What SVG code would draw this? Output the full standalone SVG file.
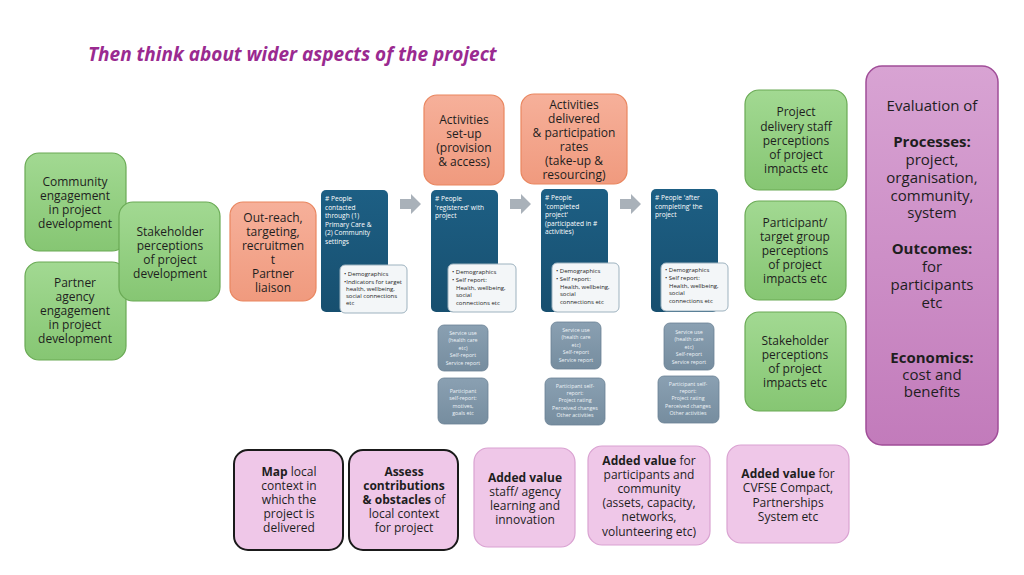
<svg xmlns="http://www.w3.org/2000/svg" width="1024" height="575" viewBox="0 0 1024 575">
<defs>
<linearGradient id="gGreen" x1="0" y1="0" x2="0" y2="1"><stop offset="0" stop-color="#a2d992"/><stop offset="1" stop-color="#86c673"/></linearGradient>
<linearGradient id="gOrange" x1="0" y1="0" x2="0" y2="1"><stop offset="0" stop-color="#f6b09a"/><stop offset="1" stop-color="#f09a7e"/></linearGradient>
<linearGradient id="gPurple" x1="0" y1="0" x2="0" y2="1"><stop offset="0" stop-color="#d8a3d3"/><stop offset="1" stop-color="#c27bbb"/></linearGradient>
<linearGradient id="gBlue" x1="0" y1="0" x2="0" y2="1"><stop offset="0" stop-color="#1d5f84"/><stop offset="1" stop-color="#174f6f"/></linearGradient>
<linearGradient id="gGray" x1="0" y1="0" x2="0" y2="1"><stop offset="0" stop-color="#8aa0b2"/><stop offset="1" stop-color="#768d9f"/></linearGradient>
</defs>
<style>
text{font-family:"Open Sans","DejaVu Sans",sans-serif;}
.green{fill:url(#gGreen);stroke:#6aaa55;stroke-width:1.2;}
.orange{fill:url(#gOrange);stroke:#e9865f;stroke-width:1.2;}
.purple{fill:url(#gPurple);stroke:#a04d98;stroke-width:1.5;}
.pink{fill:#efc7e8;stroke:#d9a2d1;stroke-width:1.2;}
.pinkb{fill:#efc7e8;stroke:#1a1a1a;stroke-width:2;}
.blue{fill:url(#gBlue);stroke:none;}
.inner{fill:#f3f6f8;stroke:#9db2bf;stroke-width:1;}
.gray{fill:url(#gGray);stroke:#6b8294;stroke-width:0.8;}
.t{font-size:12px;fill:#1e1e1e;text-anchor:middle;}
.ev{font-size:15px;fill:#1e1e1e;text-anchor:middle;}
.bh{font-size:6.6px;fill:#ffffff;}
.bi{font-size:6px;fill:#1e1e1e;}
.gt{font-size:5.3px;fill:#eef3f7;text-anchor:middle;}
.arrow{fill:#a9b1b9;}
.b{font-weight:bold;}
</style>

<text x="88" y="61" font-size="19" font-weight="bold" font-style="italic" fill="#9a2a90">Then think about wider aspects of the project</text>

<g id="connectors">
<path class="arrow" d="M400,199 h11 v-5 l10,10 l-10,10 v-5 h-11 z"/>
<path class="arrow" d="M510,199 h11 v-5 l10,10 l-10,10 v-5 h-11 z"/>
<path class="arrow" d="M620,199 h11 v-5 l10,10 l-10,10 v-5 h-11 z"/>
</g>

<g id="community-engagement">
<rect class="green" x="25" y="153" width="101" height="98" rx="14"/>
<text class="t" x="75" y="186">Community</text>
<text class="t" x="75" y="200">engagement</text>
<text class="t" x="75" y="214">in project</text>
<text class="t" x="75" y="228">development</text>
</g>
<g id="partner-agency">
<rect class="green" x="25" y="262" width="101" height="98" rx="14"/>
<text class="t" x="75" y="287">Partner</text>
<text class="t" x="75" y="301">agency</text>
<text class="t" x="75" y="315">engagement</text>
<text class="t" x="75" y="329">in project</text>
<text class="t" x="75" y="343">development</text>
</g>
<g id="stakeholder-development">
<rect class="green" x="119" y="202" width="101" height="99" rx="14"/>
<text class="t" x="170" y="236">Stakeholder</text>
<text class="t" x="170" y="250">perceptions</text>
<text class="t" x="170" y="264">of project</text>
<text class="t" x="170" y="278">development</text>
</g>
<g id="outreach">
<rect class="orange" x="230" y="202" width="86" height="99" rx="13"/>
<text class="t" x="273" y="222">Out-reach,</text>
<text class="t" x="273" y="236">targeting,</text>
<text class="t" x="273" y="250">recruitmen</text>
<text class="t" x="273" y="264">t</text>
<text class="t" x="273" y="278">Partner</text>
<text class="t" x="273" y="292">liaison</text>
</g>

<g id="activities-setup">
<rect class="orange" x="424" y="95" width="80" height="90" rx="13"/>
<text class="t" x="464" y="124">Activities</text>
<text class="t" x="464" y="138">set-up</text>
<text class="t" x="464" y="152">(provision</text>
<text class="t" x="464" y="166">&amp; access)</text>
</g>
<g id="activities-delivered">
<rect class="orange" x="521" y="94" width="106" height="90" rx="13"/>
<text class="t" x="574" y="109">Activities</text>
<text class="t" x="574" y="123">delivered</text>
<text class="t" x="574" y="137">&amp; participation</text>
<text class="t" x="574" y="151">rates</text>
<text class="t" x="574" y="165">(take-up &amp;</text>
<text class="t" x="574" y="179">resourcing)</text>
</g>

<g id="people-contacted">
<rect class="blue" x="321" y="190" width="67" height="122" rx="5"/>
<text class="bh" x="325" y="201"><tspan x="325" dy="0"># People</tspan><tspan x="325" dy="8.5">contacted</tspan><tspan x="325" dy="8.5">through (1)</tspan><tspan x="325" dy="8.5">Primary Care &amp;</tspan><tspan x="325" dy="8.5">(2) Community</tspan><tspan x="325" dy="8.5">settings</tspan></text>
<rect class="inner" x="340" y="265" width="67" height="48" rx="5"/>
<text class="bi" x="344" y="276">• Demographics</text>
<text class="bi" x="344" y="284" font-size="5.4"><tspan x="344" dy="0">•Indicators for target</tspan><tspan x="346" dy="7">health, wellbeing,</tspan><tspan x="346" dy="7">social connections</tspan><tspan x="346" dy="7">etc</tspan></text>
</g>
<g id="people-registered">
<rect class="blue" x="431" y="190" width="67" height="122" rx="5"/>
<text class="bh" x="435" y="201"><tspan x="435" dy="0"># People</tspan><tspan x="435" dy="8.5">'registered' with</tspan><tspan x="435" dy="8.5">project</tspan></text>
<rect class="inner" x="448" y="264" width="68" height="48" rx="5"/>
<text class="bi" x="452" y="274"><tspan x="452" dy="0">• Demographics</tspan><tspan x="452" dy="7.8">• Self report:</tspan><tspan x="456" dy="7.8">Health, wellbeing,</tspan><tspan x="456" dy="7.8">social</tspan><tspan x="456" dy="7.8">connections etc</tspan></text>
</g>
<g id="people-completed">
<rect class="blue" x="541" y="189" width="67" height="123" rx="5"/>
<text class="bh" x="545" y="200"><tspan x="545" dy="0"># People</tspan><tspan x="545" dy="8.5">'completed</tspan><tspan x="545" dy="8.5">project'</tspan><tspan x="545" dy="8.5">(participated in #</tspan><tspan x="545" dy="8.5">activities)</tspan></text>
<rect class="inner" x="552" y="263" width="67" height="49" rx="5"/>
<text class="bi" x="556" y="273"><tspan x="556" dy="0">• Demographics</tspan><tspan x="556" dy="7.8">• Self report:</tspan><tspan x="560" dy="7.8">Health, wellbeing,</tspan><tspan x="560" dy="7.8">social</tspan><tspan x="560" dy="7.8">connections etc</tspan></text>
</g>
<g id="people-after">
<rect class="blue" x="651" y="189" width="67" height="123" rx="5"/>
<text class="bh" x="655" y="200"><tspan x="655" dy="0"># People 'after</tspan><tspan x="655" dy="8.5">completing' the</tspan><tspan x="655" dy="8.5">project</tspan></text>
<rect class="inner" x="661" y="263" width="67" height="48" rx="5"/>
<text class="bi" x="665" y="272"><tspan x="665" dy="0">• Demographics</tspan><tspan x="665" dy="7.8">• Self report:</tspan><tspan x="669" dy="7.8">Health, wellbeing,</tspan><tspan x="669" dy="7.8">social</tspan><tspan x="669" dy="7.8">connections etc</tspan></text>
</g>

<g id="service-use-1">
<rect class="gray" x="438" y="325" width="50" height="46" rx="6"/>
<text class="gt" x="463" y="335"><tspan x="463" dy="0">Service use</tspan><tspan x="463" dy="7.4">(health care</tspan><tspan x="463" dy="7.4">etc)</tspan><tspan x="463" dy="7.4">Self-report</tspan><tspan x="463" dy="7.4">Service report</tspan></text>
</g>
<g id="self-report-1">
<rect class="gray" x="438" y="378" width="50" height="46" rx="6"/>
<text class="gt" x="463" y="393"><tspan x="463" dy="0">Participant</tspan><tspan x="463" dy="7.4">self-report:</tspan><tspan x="463" dy="7.4">motives,</tspan><tspan x="463" dy="7.4">goals etc</tspan></text>
</g>
<g id="service-use-2">
<rect class="gray" x="551" y="322" width="50" height="47" rx="6"/>
<text class="gt" x="576" y="332"><tspan x="576" dy="0">Service use</tspan><tspan x="576" dy="7.4">(health care</tspan><tspan x="576" dy="7.4">etc)</tspan><tspan x="576" dy="7.4">Self-report</tspan><tspan x="576" dy="7.4">Service report</tspan></text>
</g>
<g id="self-report-2">
<rect class="gray" x="545" y="378" width="60" height="47" rx="6"/>
<text class="gt" x="575" y="388"><tspan x="575" dy="0">Participant self-</tspan><tspan x="575" dy="7.2">report:</tspan><tspan x="575" dy="7.2">Project rating</tspan><tspan x="575" dy="7.2">Perceived changes</tspan><tspan x="575" dy="7.2">Other activities</tspan></text>
</g>
<g id="service-use-3">
<rect class="gray" x="664" y="323" width="50" height="47" rx="6"/>
<text class="gt" x="689" y="334"><tspan x="689" dy="0">Service use</tspan><tspan x="689" dy="7.4">(health care</tspan><tspan x="689" dy="7.4">etc)</tspan><tspan x="689" dy="7.4">Self-report</tspan><tspan x="689" dy="7.4">Service report</tspan></text>
</g>
<g id="self-report-3">
<rect class="gray" x="658" y="376" width="61" height="47" rx="6"/>
<text class="gt" x="688" y="386"><tspan x="688" dy="0">Participant self-</tspan><tspan x="688" dy="7.2">report:</tspan><tspan x="688" dy="7.2">Project rating</tspan><tspan x="688" dy="7.2">Perceived changes</tspan><tspan x="688" dy="7.2">Other activities</tspan></text>
</g>

<g id="staff-perceptions">
<rect class="green" x="745" y="90" width="102" height="100" rx="14"/>
<text class="t" x="796" y="116">Project</text>
<text class="t" x="796" y="131">delivery staff</text>
<text class="t" x="796" y="145">perceptions</text>
<text class="t" x="796" y="159">of project</text>
<text class="t" x="796" y="173">impacts etc</text>
</g>
<g id="participant-perceptions">
<rect class="green" x="745" y="201" width="101" height="99" rx="14"/>
<text class="t" x="795" y="227">Participant/</text>
<text class="t" x="795" y="241">target group</text>
<text class="t" x="795" y="255">perceptions</text>
<text class="t" x="795" y="269">of project</text>
<text class="t" x="795" y="283">impacts etc</text>
</g>
<g id="stakeholder-impacts">
<rect class="green" x="745" y="312" width="101" height="99" rx="14"/>
<text class="t" x="795" y="345">Stakeholder</text>
<text class="t" x="795" y="359">perceptions</text>
<text class="t" x="795" y="373">of project</text>
<text class="t" x="795" y="387">impacts etc</text>
</g>

<g id="evaluation">
<rect class="purple" x="866" y="66" width="132" height="379" rx="16"/>
<text class="ev" x="932" y="111">Evaluation of</text>
<text class="ev b" x="932" y="147">Processes:</text>
<text class="ev" x="932" y="165">project,</text>
<text class="ev" x="932" y="183">organisation,</text>
<text class="ev" x="932" y="201">community,</text>
<text class="ev" x="932" y="218">system</text>
<text class="ev b" x="932" y="254">Outcomes:</text>
<text class="ev" x="932" y="272">for</text>
<text class="ev" x="932" y="290">participants</text>
<text class="ev" x="932" y="308">etc</text>
<text class="ev b" x="932" y="363">Economics:</text>
<text class="ev" x="932" y="380">cost and</text>
<text class="ev" x="932" y="397">benefits</text>
</g>

<g id="map-local">
<rect class="pinkb" x="234" y="450" width="109" height="100" rx="14"/>
<text class="t" x="289" y="476" font-size="12.5"><tspan class="b">Map</tspan> local</text>
<text class="t" x="289" y="490" font-size="12.5">context in</text>
<text class="t" x="289" y="504" font-size="12.5">which the</text>
<text class="t" x="289" y="518" font-size="12.5">project is</text>
<text class="t" x="289" y="532" font-size="12.5">delivered</text>
</g>
<g id="assess">
<rect class="pinkb" x="349" y="450" width="109" height="100" rx="14"/>
<text class="t b" x="404" y="476" font-size="12.5">Assess</text>
<text class="t b" x="404" y="490" font-size="12.5">contributions</text>
<text class="t" x="404" y="504" font-size="12.5"><tspan class="b">&amp; obstacles</tspan> of</text>
<text class="t" x="404" y="518" font-size="12.5">local context</text>
<text class="t" x="404" y="532" font-size="12.5">for project</text>
</g>
<g id="added-value-staff">
<rect class="pink" x="474" y="448" width="101" height="99" rx="14"/>
<text class="t b" x="525" y="482">Added value</text>
<text class="t" x="525" y="496">staff/ agency</text>
<text class="t" x="525" y="510">learning and</text>
<text class="t" x="525" y="524">innovation</text>
</g>
<g id="added-value-participants">
<rect class="pink" x="588" y="446" width="122" height="99" rx="14"/>
<text class="t" x="649" y="465"><tspan class="b">Added value</tspan> for</text>
<text class="t" x="649" y="479">participants and</text>
<text class="t" x="649" y="493">community</text>
<text class="t" x="649" y="507">(assets, capacity,</text>
<text class="t" x="649" y="521">networks,</text>
<text class="t" x="649" y="536">volunteering etc)</text>
</g>
<g id="added-value-cvfse">
<rect class="pink" x="727" y="445" width="122" height="98" rx="14"/>
<text class="t" x="788" y="478"><tspan class="b">Added value</tspan> for</text>
<text class="t" x="788" y="492">CVFSE Compact,</text>
<text class="t" x="788" y="507">Partnerships</text>
<text class="t" x="788" y="521">System etc</text>
</g>
</svg>
